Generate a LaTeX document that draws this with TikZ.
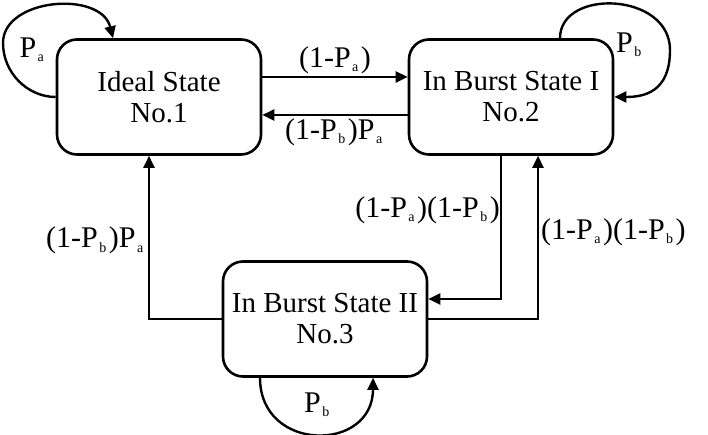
\documentclass[tikz,border=0pt]{standalone}
\usepackage{fontspec}
\setmainfont{Liberation Serif}
\usetikzlibrary{arrows.meta}
\newcommand{\idx}[1]{\kern1.5pt\raisebox{-0.3ex}{\fontsize{14}{14}\selectfont #1}\kern2.5pt}

\begin{document}
\begin{tikzpicture}[x=1pt,y=1pt,>={Triangle[length=12pt,width=11pt]},
  state/.style={draw,line width=2.6pt,rounded corners=20pt,minimum width=204pt,minimum height=115pt,align=center,font=\fontsize{29}{31}\selectfont},
  tr/.style={->,line width=2.4pt},
  lbl/.style={font=\fontsize{30}{32}\selectfont,inner sep=2pt}]
  \useasboundingbox (0,0) rectangle (708,435);
  \node[state] (s1) at (159,338) {Ideal State\\No.1};
  \node[state] (s2) at (511,338) {In Burst State I\\No.2};
  \node[state] (s3) at (325,116) {In Burst State II\\No.3};
  % self loops
  \coordinate (l1) at (3,392);
  \coordinate (l2) at (670,385);
  \draw[tr] (s1.west) .. controls +(-28,0) and +(0,-30) .. (l1) .. controls +(0,45) and +(-12,48) .. ([xshift=-46]s1.north);
  \draw[tr] ([xshift=49]s2.north) .. controls +(0,50) and +(0,58) .. (l2) .. controls +(0,-42) and +(30,0) .. (s2.east);
  \draw[tr] ([xshift=-65]s3.south) .. controls +(0,-75) and +(0,-75) .. ([xshift=48]s3.south);
  \node[lbl] (pa1) at (33,385) {P\idx{a}};
  \node[lbl] (pb2) at (630,390) {P\idx{b}};
  \node[lbl] (pb3) at (318,30) {P\idx{b}};
  % transitions
  \draw[tr] ([yshift=20]s1.east) -- node[lbl,above] {(1-P\idx{a})} ([yshift=20]s2.west);
  \draw[tr] ([yshift=-18]s2.west) -- node[lbl,below] {(1-P\idx{b})P\idx{a}} ([yshift=-18]s1.east);
  \draw[tr] (s3.west) -| node[lbl,left,pos=0.74] {(1-P\idx{b})P\idx{a}} ([xshift=-10]s1.south);
  \draw[tr] ([xshift=-10]s2.south) |- node[lbl,left,pos=0.19,inner sep=0pt] {(1-P\idx{a})(1-P\idx{b})} ([yshift=20]s3.east);
  \draw[tr] (s3.east) -| node[lbl,right,pos=0.765] {(1-P\idx{a})(1-P\idx{b})} ([xshift=27]s2.south);
\end{tikzpicture}
\end{document}
